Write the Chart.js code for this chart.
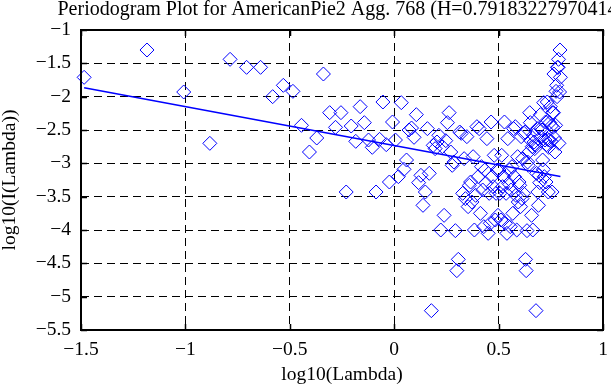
<!DOCTYPE html>
<html>
<head>
<meta charset="utf-8">
<script src="https://cdn.jsdelivr.net/npm/chart.js@4/dist/chart.umd.min.js"></script>
<style>
  html, body { margin: 0; padding: 0; background: #fff; }
  #wrap { width: 611px; height: 385px; position: relative; }
</style>
</head>
<body>
<div id="wrap"><canvas id="c"></canvas></div>
<script>
// log10(Lambda) for each periodogram ordinate
const logLambda = [
-1.485,-1.184,-1.008,-0.883,-0.786,-0.707,-0.640,-0.582,-0.531,-0.485,
-0.444,-0.406,-0.371,-0.339,-0.309,-0.281,-0.255,-0.230,-0.206,-0.184,
-0.163,-0.143,-0.123,-0.105,-0.087,-0.070,-0.054,-0.038,-0.023,-0.008,
0.006,0.020,0.034,0.047,0.059,0.071,0.083,0.095,0.106,0.117,
0.128,0.138,0.149,0.159,0.168,0.178,0.187,0.196,0.205,0.214,
0.223,0.231,0.239,0.247,0.255,0.263,0.271,0.278,0.286,0.293,
0.300,0.307,0.314,0.321,0.328,0.335,0.341,0.348,0.354,0.360,
0.366,0.372,0.378,0.384,0.390,0.396,0.402,0.407,0.413,0.418,
0.424,0.429,0.434,0.439,0.444,0.450,0.455,0.460,0.464,0.469,
0.474,0.479,0.484,0.488,0.493,0.497,0.502,0.506,0.511,0.515,
0.519,0.524,0.528,0.532,0.536,0.540,0.544,0.548,0.552,0.556,
0.560,0.564,0.568,0.572,0.576,0.580,0.583,0.587,0.591,0.594,
0.598,0.601,0.605,0.608,0.612,0.615,0.619,0.622,0.626,0.629,
0.632,0.636,0.639,0.642,0.645,0.649,0.652,0.655,0.658,0.661,
0.664,0.667,0.670,0.673,0.676,0.679,0.682,0.685,0.688,0.691,
0.694,0.697,0.700,0.703,0.705,0.708,0.711,0.714,0.716,0.719,
0.722,0.725,0.727,0.730,0.733,0.735,0.738,0.740,0.743,0.745,
0.748,0.751,0.753,0.756,0.758,0.761,0.763,0.765,0.768,0.770,
0.773,0.775,0.778,0.780,0.782,0.785,0.787,0.789,0.792,0.794,
0.796
];
// log10(I(Lambda)) for each ordinate
const logPower = [
-1.71,-1.30,-1.93,-2.70,-1.44,-1.56,-1.56,-2.00,-1.83,-1.92,
-2.43,-2.83,-2.62,-1.66,-2.24,-2.46,-2.24,-3.43,-2.44,-2.67,
-2.15,-2.39,-2.65,-2.76,-3.43,-2.64,-2.08,-2.72,-3.28,-2.38,
-2.65,-3.20,-2.09,-3.09,-2.95,-2.50,-2.47,-2.61,-2.27,-3.29,
-3.18,-3.63,-3.43,-2.48,-3.15,-5.21,-2.73,-2.78,-2.68,-2.58,
-4.00,-2.75,-3.78,-2.66,-2.39,-2.24,-2.83,-3.03,-2.98,-4.01,
-4.61,-4.44,-2.53,-2.55,-3.45,-2.93,-3.53,-2.60,-3.65,-3.33,
-3.28,-3.58,-2.90,-4.00,-3.48,-2.45,-3.20,-2.48,-3.75,-3.05,
-3.40,-3.95,-3.10,-3.30,-2.63,-4.05,-3.45,-3.90,-2.38,-3.20,
-3.35,-2.88,-3.85,-3.45,-3.10,-3.78,-3.10,-3.45,-3.85,-2.88,
-3.35,-3.20,-2.38,-3.90,-3.45,-4.05,-2.63,-3.30,-3.10,-3.95,
-3.40,-3.05,-3.75,-2.48,-3.20,-2.45,-3.48,-4.00,-2.90,-3.58,
-3.28,-3.33,-3.65,-2.60,-3.53,-2.93,-3.45,-2.55,-2.53,-4.44,
-4.61,-4.01,-2.98,-3.03,-2.83,-2.24,-2.39,-2.66,-3.78,-2.75,
-4.00,-2.58,-2.68,-2.78,-2.73,-5.21,-3.15,-2.48,-3.43,-3.63,
-3.18,-3.29,-2.27,-2.61,-2.47,-2.50,-2.95,-3.09,-2.09,-3.20,
-2.65,-2.38,-3.28,-2.72,-2.08,-2.64,-3.43,-2.76,-2.65,-2.39,
-2.15,-2.67,-2.44,-3.43,-2.24,-2.46,-2.24,-1.66,-2.62,-2.83,
-2.43,-1.92,-1.83,-2.00,-1.56,-1.56,-1.44,-2.70,-1.93,-1.30,
-1.71
];
// least-squares fit line end points
const fitX = [-1.485, 0.796];
const fitY = [-1.866, -3.197];
const xTicks = [-1.5, -1, -0.5, 0, 0.5, 1];
const yTicks = [-5.5, -5, -4.5, -4, -3.5, -3, -2.5, -2, -1.5, -1];
const titleText = 'Periodogram Plot for AmericanPie2 Agg. 768 (H=0.79183227970414)';

const FONT = '"Liberation Serif", "Times New Roman", serif';
const fmt = v => (v < 0 ? '\u2212' : '') + String(Math.abs(v));

const framePlugin = {
  id: 'frame',
  afterDraw(chart) {
    const { ctx, chartArea: a, scales } = chart;
    ctx.save();
    ctx.strokeStyle = '#000';
    ctx.lineWidth = 1.5;
    ctx.beginPath();
    xTicks.forEach(v => {
      const p = Math.round(scales.x.getPixelForValue(v)) + 0.5;
      ctx.moveTo(p, a.bottom); ctx.lineTo(p, a.bottom - 6);
      ctx.moveTo(p, a.top); ctx.lineTo(p, a.top + 6);
    });
    yTicks.forEach(v => {
      const p = Math.round(scales.y.getPixelForValue(v)) + 0.5;
      ctx.moveTo(a.left, p); ctx.lineTo(a.left + 6, p);
      ctx.moveTo(a.right, p); ctx.lineTo(a.right - 6, p);
    });
    ctx.stroke();
    ctx.lineWidth = 2;
    ctx.strokeRect(a.left, a.top, a.right - a.left, a.bottom - a.top);
    // title
    ctx.fillStyle = '#000';
    ctx.font = '20px ' + FONT;
    ctx.textAlign = 'left';
    ctx.textBaseline = 'alphabetic';
    ctx.fillText(titleText, 57.5, 15);
    ctx.restore();
  }
};

new Chart(document.getElementById('c'), {
  type: 'scatter',
  data: {
    datasets: [
      {
        label: 'fit',
        data: fitX.map((x, i) => ({ x, y: fitY[i] })),
        showLine: true,
        borderColor: '#0000ff',
        borderWidth: 1.5,
        pointRadius: 0,
        fill: false
      },
      {
        label: 'periodogram',
        data: logLambda.map((x, i) => ({ x, y: logPower[i] })),
        pointStyle: 'rectRot',
        pointRadius: 7,
        pointHoverRadius: 7,
        pointBorderWidth: 1,
        pointBackgroundColor: 'rgba(0,0,0,0)',
        pointBorderColor: '#0000ff',
        clip: false
      }
    ]
  },
  options: {
    responsive: true,
    maintainAspectRatio: false,
    animation: false,
    events: [],
    layout: { padding: { top: 30, right: 3, left: 0, bottom: 0 } },
    plugins: { legend: { display: false }, tooltip: { enabled: false }, title: { display: false } },
    scales: {
      x: {
        type: 'linear', min: -1.5, max: 1,
        afterBuildTicks: s => { s.ticks = xTicks.map(v => ({ value: v })); },
        afterFit: s => { s.height = 55; s.paddingLeft = 0; s.paddingRight = 0; },
        ticks: { callback: fmt, color: '#000', font: { family: FONT, size: 19.5 }, padding: 8, maxRotation: 0, autoSkip: false },
        grid: { color: '#000', lineWidth: 1, drawTicks: false },
        border: { display: false, dash: [8, 5] },
        title: { display: true, text: 'log10(Lambda)', color: '#000', font: { family: FONT, size: 19.5 }, padding: { top: 0, bottom: -2 } }
      },
      y: {
        type: 'linear', min: -5.5, max: -1,
        afterBuildTicks: s => { s.ticks = yTicks.map(v => ({ value: v })); },
        afterFit: s => { s.width = 81; s.paddingTop = 0; s.paddingBottom = 0; },
        ticks: { callback: fmt, color: '#000', font: { family: FONT, size: 19.5 }, padding: 10, autoSkip: false },
        grid: { color: '#000', lineWidth: 1, drawTicks: false },
        border: { display: false, dash: [8, 5] },
        title: { display: true, text: 'log10(I(Lambda))', color: '#000', font: { family: FONT, size: 19.5 }, padding: { top: -2, bottom: 0 } }
      }
    }
  },
  plugins: [framePlugin]
});
</script>
</body>
</html>
